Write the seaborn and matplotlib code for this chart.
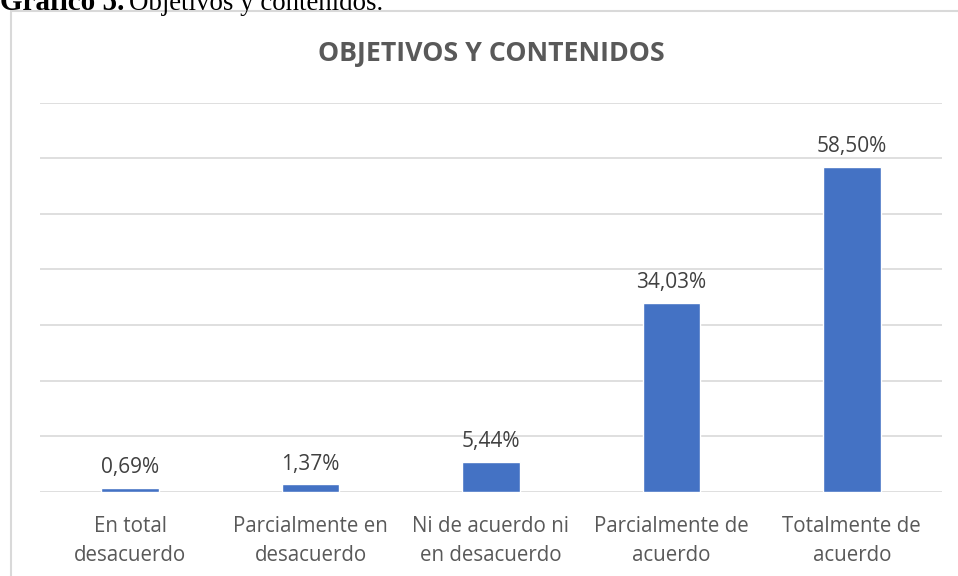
import matplotlib
matplotlib.use("Agg")
import matplotlib.pyplot as plt
import seaborn as sns
import pandas as pd
from matplotlib.patches import Rectangle

categories = ["En total\ndesacuerdo", "Parcialmente en\ndesacuerdo", "Ni de acuerdo ni\nen desacuerdo",
              "Parcialmente de\nacuerdo", "Totalmente de\nacuerdo"]
values = [0.69, 1.37, 5.44, 34.03, 58.50]
labels = ["0,69%", "1,37%", "5,44%", "34,03%", "58,50%"]

df = pd.DataFrame({"cat": categories, "val": values})

sns.set_theme(style="white")
plt.rcParams['font.family'] = ['Open Sans', 'DejaVu Sans']

fig = plt.figure(figsize=(9.58, 5.76), dpi=100)
ax = fig.add_axes([40/958, (576-492)/576, (942-40)/958, (492-102.6)/576])

sns.barplot(data=df, x="cat", y="val", color="#4472C4", width=0.32, ax=ax, saturation=1)

ax.set_ylim(0, 70)
ax.set_yticks(range(0, 71, 10))
ax.yaxis.grid(True, color="#D9D9D9", linewidth=1.2)
ax.set_axisbelow(True)
ax.tick_params(axis='y', left=False, labelleft=False)
ax.tick_params(axis='x', bottom=False, colors="#595959", labelsize=14.8, pad=11)
for t in ax.get_xticklabels():
    t.set_linespacing(1.5)
for s in ax.spines.values():
    s.set_visible(False)
ax.set_xlabel("")
ax.set_ylabel("")

for i, (v, l) in enumerate(zip(values, labels)):
    ax.annotate(l, (i, v), xytext=(0, 7), textcoords="offset points",
                ha="center", va="bottom", fontsize=15, color="#404040")

fig.text(491/958, 1 - 54/576, "OBJETIVOS Y CONTENIDOS", ha="center", va="center",
         fontsize=19.3, fontweight="bold", color="#595959")

# chart frame
fig.patches.append(Rectangle((11/958, -0.01), 1.0, 1 - 11/576 + 0.01, transform=fig.transFigure,
                             fill=False, edgecolor="#D9D9D9", linewidth=1.5))

# caption (top cut off as in the reference)
fig.text(0.0, 1 - 10/576, "Gráfico 5.", ha="left", va="baseline", fontsize=21,
         family="Liberation Serif", fontweight="bold", color="black")
fig.text(129/958, 1 - 10/576, "Objetivos y contenidos.", ha="left", va="baseline", fontsize=19.4,
         family="Liberation Serif", color="black")

fig.savefig("out.png", dpi=100)
